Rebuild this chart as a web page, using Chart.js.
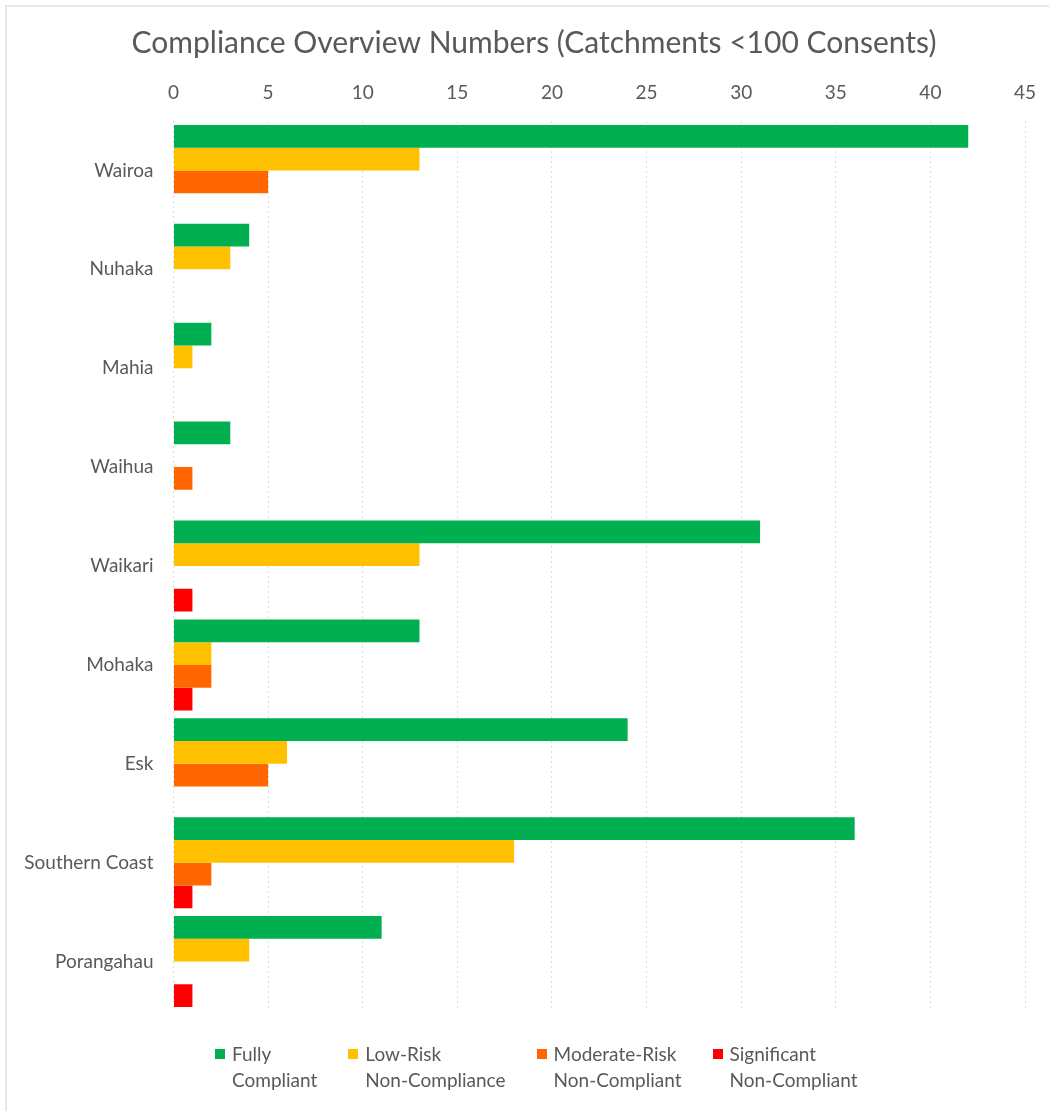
<!DOCTYPE html>
<html>
<head>
<meta charset="utf-8">
<script src="https://cdn.jsdelivr.net/npm/chart.js@4.4.1/dist/chart.umd.min.js"></script>
<style>
  html, body { margin: 0; padding: 0; background: #fff; }
  body { width: 1049px; height: 1111px; position: relative; overflow: hidden; font-family: Lato, sans-serif; }
  .frame { position: absolute; left: 5px; top: 5px; width: 1100px; height: 1200px; border: 2px solid #e8e8e8; box-sizing: border-box; }
  canvas { position: absolute; left: 0; top: 0; }
  #legend { position: absolute; left: 215px; top: 1041px; display: flex; gap: 31px; color: #595959; font-size: 19px; line-height: 26px; }
  #legend .item { display: flex; align-items: flex-start; }
  #legend .box { width: 10px; height: 10px; margin: 8px 7px 0 0; flex: none; }
</style>
</head>
<body>
<div class="frame"></div>
<canvas id="chart" width="1049" height="1111"></canvas>
<div id="legend"></div>
<script>
// catchments, top to bottom
const catchments = ["Wairoa", "Nuhaka", "Mahia", "Waihua", "Waikari", "Mohaka", "Esk", "Southern Coast", "Porangahau"]

// consent counts per compliance grade
const fullyCompliant      = [42, 4, 2, 3, 31, 13, 24, 36, 11]
const lowRisk             = [13, 3, 1, 0, 13,  2,  6, 18,  4]
const moderateRisk        = [ 5, 0, 0, 1,  0,  2,  5,  2,  0]
const significant         = [ 0, 0, 0, 0,  1,  1,  0,  1,  1]

const seriesLabels = [
  ["Fully", "Compliant"],
  ["Low-Risk", "Non-Compliance"],
  ["Moderate-Risk", "Non-Compliant"],
  ["Significant", "Non-Compliant"],
]
const seriesColors = ["#00b050", "#ffc000", "#ff6600", "#ff0000"]
const seriesValues = [fullyCompliant, lowRisk, moderateRisk, significant]

const chartTitle = "Compliance Overview Numbers (Catchments <100 Consents)"
const xMax  = 45
const xStep = 5

const TEXT = "#595959"
const FONT = "Lato, sans-serif"

// title sits a little right of the canvas centre, over the plot
const titlePlugin = {
  id: "offsetTitle",
  afterDraw(chart) {
    const ctx = chart.ctx
    ctx.save()
    ctx.font = `30px ${FONT}`
    ctx.fillStyle = TEXT
    ctx.textAlign = "center"
    ctx.textBaseline = "alphabetic"
    ctx.fillText(chartTitle, 534, 53)
    ctx.restore()
  },
}

const datasets = seriesValues.map((values, i) => ({
  label: seriesLabels[i].join(" "),
  data: values,
  backgroundColor: seriesColors[i],
  borderWidth: 0,
  categoryPercentage: 0.92,
  barPercentage: 1,
}))

new Chart(document.getElementById("chart"), {
  type: "bar",
  data: { labels: catchments, datasets },
  plugins: [titlePlugin],
  options: {
    indexAxis: "y",
    responsive: false,
    animation: false,
    layout: { padding: { left: 0, right: 24, top: 62, bottom: 100 } },
    scales: {
      x: {
        position: "top",
        min: 0,
        max: xMax,
        ticks: { stepSize: xStep, color: TEXT, font: { family: FONT, size: 19 }, padding: 17 },
        grid: { color: "#dcdcdc", drawTicks: false, lineWidth: 1 },
        border: { display: false, dash: [2, 3] },
        afterFit: (scale) => {
          scale.height = 59
          // let the end labels hang over the plot edges instead of shrinking it
          scale.paddingLeft = 0
          scale.paddingRight = 0
        },
      },
      y: {
        ticks: { color: TEXT, font: { family: FONT, size: 19 }, padding: 20 },
        grid: { display: false, drawTicks: false },
        border: { display: false },
        afterFit: (scale) => { scale.width = 173.5 },
      },
    },
    plugins: {
      legend: { display: false },
      tooltip: { enabled: false },
      title: { display: false },
    },
  },
})

// two-line legend below the plot
const legend = document.getElementById("legend")
seriesLabels.forEach((lines, i) => {
  const item = document.createElement("div")
  item.className = "item"
  item.innerHTML = `<span class="box" style="background:${seriesColors[i]}"></span><span>${lines.join("<br>")}</span>`
  legend.appendChild(item)
})
</script>
</body>
</html>
